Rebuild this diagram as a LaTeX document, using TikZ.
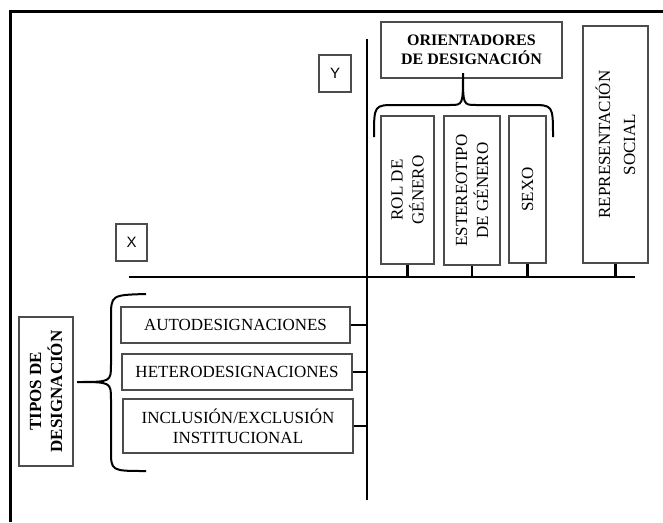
\documentclass[tikz,border=0pt]{standalone}
\usepackage{fontspec}
\setmainfont{Liberation Serif}
\newfontfamily\axisfont{Liberation Sans}
\begin{document}
\begin{tikzpicture}[x=1pt,y=-1pt,
  box/.style={draw=black!70, line width=1.2pt, fill=white, inner sep=0pt, align=center,
    font=\fontsize{17}{20}\selectfont},
  vbox/.style={box, rotate=90, font=\fontsize{17}{21}\selectfont},
  boldbox/.style={box, font=\fontsize{16}{19}\selectfont\bfseries},
  vboldbox/.style={box, rotate=90, font=\fontsize{17}{21}\selectfont\bfseries},
  axbox/.style={draw=black!70, line width=1.2pt, fill=white, inner sep=0pt,
    minimum width=31pt, minimum height=37pt, font=\axisfont\fontsize{15}{17}\selectfont},
  axisline/.style={line width=2.4pt},
  stub/.style={line width=2.2pt},
  bracestyle/.style={line width=2pt}]
\useasboundingbox (0,0) rectangle (663,522);
% frame
\draw[line width=3pt] (10,522) -- (10,11) -- (663,11);
% axes
\coordinate (ytop) at (367,39);
\coordinate (ybot) at (367,500);
\coordinate (xl) at (129,277);
\coordinate (xr) at (635,277);
\draw[axisline] (ytop) -- (ybot);
\draw[axisline] (xl) -- (xr);
% axis labels
\node[axbox, minimum width=32pt] (ylab) at (335,73.5) {Y};
\node[axbox] (xlab) at (131.5,242.5) {X};
% top boxes
\node[boldbox, minimum width=181pt, minimum height=56pt] (ori) at (471.5,50) {ORIENTADORES\\DE DESIGNACIÓN};
\node[vbox, minimum width=148pt, minimum height=53pt] (rol) at (407.5,190) {ROL DE\\GÉNERO};
\node[vbox, minimum width=149pt, minimum height=56pt] (est) at (472,190.5) {ESTEREOTIPO\\DE GÉNERO};
\node[vbox, minimum width=147pt, minimum height=37pt] (sexo) at (527.5,189.5) {SEXO};
\node[vbox, minimum width=237pt, minimum height=65pt, font=\fontsize{17}{25}\selectfont] (rep) at (615.5,144.5) {REPRESENTACIÓN\\SOCIAL};
% stubs to X axis
\foreach \n in {rol,est,sexo,rep}{
  \draw[stub] (\n.west) -- (\n.west |- xl);
}
% top brace
\draw[bracestyle] (374,137) .. controls (374,105) .. (396,105) -- (450,105)
  .. controls (463,105) .. (463,73) .. controls (463,105) .. (476,105) -- (531,105)
  .. controls (553,105) .. (553,137);
% left boxes
\node[vboldbox, minimum width=149pt, minimum height=54pt] (tipos) at (46,391.5) {TIPOS DE\\DESIGNACIÓN};
\node[box, minimum width=229pt, minimum height=36pt] (auto) at (235.5,325) {AUTODESIGNACIONES};
\node[box, minimum width=230pt, minimum height=36pt] (hetero) at (237,372) {HETERODESIGNACIONES};
\node[box, minimum width=230pt, minimum height=54pt] (incl) at (238,426) {INCLUSIÓN/EXCLUSIÓN\\INSTITUCIONAL};
\foreach \n in {auto,hetero,incl}{
  \draw[stub] (\n.east) -- (\n.east -| ytop);
}
% left brace
\draw[bracestyle] (146,294) .. controls (111,295) .. (111,318) -- (111,364)
  .. controls (111,382) .. (77,382) .. controls (111,382) .. (111,400) -- (111,450)
  .. controls (111,471) .. (146,471);
\end{tikzpicture}
\end{document}
